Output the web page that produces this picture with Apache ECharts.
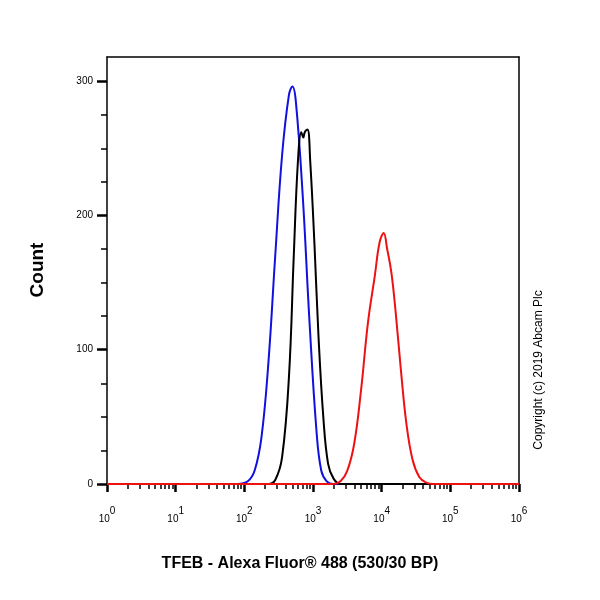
<!DOCTYPE html>
<html>
<head>
<meta charset="utf-8">
<script src="https://cdn.jsdelivr.net/npm/echarts@6/dist/echarts.min.js"></script>
<style>html,body{margin:0;padding:0;background:#fff}#main{width:600px;height:600px}</style>
</head>
<body>
<div id="main"></div>
<script>
// x values are log10 of fluorescence
var blueData = [[0,0],[1.9,0],[2.05,2],[2.15,10],[2.25,35],[2.35,90],[2.45,170],[2.55,245],[2.65,290],[2.70,296],[2.75,285],[2.85,215],[2.95,120],[3.05,40],[3.12,10],[3.2,2],[3.3,0],[6,0]];
var blackData = [[0,0],[2.35,0],[2.45,3],[2.55,20],[2.65,80],[2.72,170],[2.78,240],[2.83,262],[2.86,258],[2.88,262],[2.92,264],[2.96,240],[3.02,180],[3.08,110],[3.15,50],[3.22,15],[3.3,4],[3.4,0],[6,0]];
var redData = [[0,0],[3.3,0],[3.4,2],[3.5,10],[3.6,30],[3.7,70],[3.8,120],[3.9,155],[3.97,180],[4.03,187],[4.08,175],[4.14,158],[4.2,130],[4.28,85],[4.36,45],[4.45,18],[4.55,5],[4.65,1],[4.75,0],[6,0]];
var decades = [0,1,2,3,4,5,6];
var yMajor = [0,100,200,300];

var minorTicks = [];
for (var d = 0; d < 6; d++) {
  for (var k = 2; k <= 9; k++) minorTicks.push(d + Math.log10(k));
}
var yMinor = [];
for (var v = 0; v <= 300; v += 25) if (v % 100) yMinor.push(v);

var chart = echarts.init(document.getElementById('main'));
var axisLine = { show: true, onZero: false, lineStyle: { color: '#000', width: 1.5 } };
chart.setOption({
  animation: false,
  grid: { left: 107, right: 81, top: 57, bottom: 116 },
  xAxis: [
    { type: 'value', min: 0, max: 6, axisLine: axisLine, splitLine: { show: false },
      axisTick: { customValues: decades, length: 8, lineStyle: { width: 2.5, color: '#000' } },
      axisLabel: { customValues: decades, margin: 22, color: '#000',
        formatter: function (v) { return '{b|10}{s|' + v + '}'; },
        rich: { b: { fontSize: 10, fontFamily: 'Arial', verticalAlign: 'bottom' },
                s: { fontSize: 10, fontFamily: 'Arial', verticalAlign: 'top', padding: [0, 0, 8, 0] } } } },
    { type: 'value', min: 0, max: 6, position: 'bottom', axisLine: { show: false, onZero: false },
      splitLine: { show: false }, axisLabel: { show: false },
      axisTick: { customValues: minorTicks, length: 5, lineStyle: { width: 1.5, color: '#000' } } },
    { type: 'value', min: 0, max: 6, position: 'top', axisLine: axisLine,
      axisTick: { show: false }, axisLabel: { show: false }, splitLine: { show: false } }
  ],
  yAxis: [
    { type: 'value', min: 0, max: 318, axisLine: axisLine, splitLine: { show: false },
      axisTick: { customValues: yMajor, length: 10, lineStyle: { width: 2.5, color: '#000' } },
      axisLabel: { customValues: yMajor, margin: 14, fontSize: 10, fontFamily: 'Arial', color: '#000' } },
    { type: 'value', min: 0, max: 318, position: 'left', axisLine: { show: false, onZero: false },
      splitLine: { show: false }, axisLabel: { show: false },
      axisTick: { customValues: yMinor, length: 6, lineStyle: { width: 1.5, color: '#000' } } },
    { type: 'value', min: 0, max: 318, position: 'right', axisLine: axisLine,
      axisTick: { show: false }, axisLabel: { show: false }, splitLine: { show: false } }
  ],
  graphic: [
    { type: 'text', left: 'center', top: 556, style: { text: 'TFEB - Alexa Fluor® 488 (530/30 BP)', font: 'bold 16px Arial', fill: '#000' } },
    { type: 'text', x: 38, y: 270, rotation: Math.PI / 2, style: { text: 'Count', font: 'bold 19px Arial', fill: '#000', align: 'center', verticalAlign: 'middle' } },
    { type: 'text', x: 539, y: 370, rotation: Math.PI / 2, style: { text: 'Copyright (c) 2019 Abcam Plc', font: '12px Arial', fill: '#000', align: 'center', verticalAlign: 'middle' } }
  ],
  series: [
    { type: 'line', data: blueData, smooth: 0.4, symbol: 'none', lineStyle: { color: '#1010e0', width: 2 } },
    { type: 'line', data: blackData, smooth: 0.4, symbol: 'none', lineStyle: { color: '#000', width: 2 } },
    { type: 'line', data: redData, smooth: 0.4, symbol: 'none', lineStyle: { color: '#ee1111', width: 2 } }
  ]
});
</script>
</body>
</html>
